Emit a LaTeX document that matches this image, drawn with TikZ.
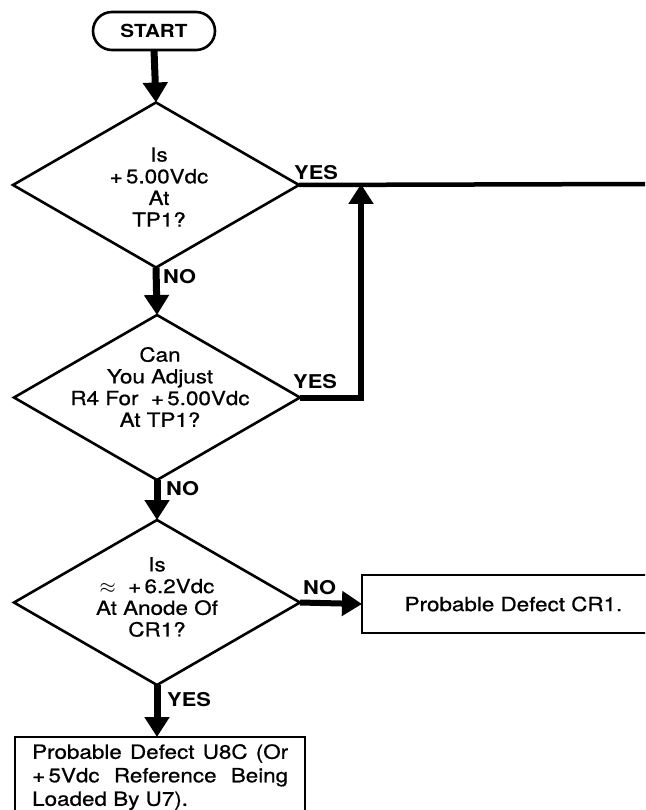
\documentclass[tikz,border=0pt]{standalone}
\usepackage{fontspec}
\setmainfont{TeX Gyre Heros}[FakeStretch=1.15]
\newfontfamily\heavyfont{TeX Gyre Heros}[FakeStretch=1.15,FakeBold=0.7]
\usetikzlibrary{shapes.geometric,arrows.meta}
\begin{document}
\begin{tikzpicture}[x=1pt,y=-1pt,
  decision/.style={diamond, draw, line width=2.6pt, minimum width=286pt, minimum height=165pt,
    inner sep=0pt, outer sep=0pt},
  dtext/.style={align=center, inner sep=0pt, font=\heavyfont\fontsize{19.5}{21.7}\selectfont},
  term/.style={rectangle, rounded corners=19pt, draw, line width=2.6pt, minimum width=122pt,
    minimum height=38pt, outer sep=0pt, font=\bfseries\fontsize{18}{22}\selectfont},
  proc/.style={rectangle, draw, line width=2.8pt, outer sep=0pt},
  btext/.style={font=\heavyfont\fontsize{19.5}{23.5}\selectfont, inner sep=0pt},
  flow/.style={line width=7pt, -{Triangle[width=24pt,length=20pt]}},
  lbl/.style={font=\bfseries\fontsize{19}{22}\selectfont, inner sep=0pt}
]
\useasboundingbox (0,0) rectangle (645,810);
\clip (0,0) rectangle (645,810);

% nodes
\node[term] (start) at (154,31) {START};
\node[decision] (d1) at (156,185) {};
\node[dtext] (d1t) at (159,187) {Is\\+\,5.00Vdc\\At\\TP1?};
\node[decision] (d2) at (157,397.5) {};
\node[dtext] (d2t) at (160,387) {Can\\You Adjust\\R4 For~~+\,5.00Vdc\\At TP1?};
\node[decision] (d3) at (157,602.5) {};
\node[dtext] (d3t) at (157,597) {Is\\$\approx$~~+\,6.2Vdc\\At Anode Of\\CR1?};
\node[proc, minimum width=303pt, minimum height=58pt, btext] (cr1) at (513.5,604) {Probable Defect CR1.};
\node[proc, anchor=north west, minimum width=290pt, minimum height=100pt] (b2) at (15,737) {};
\node[btext, anchor=north west, text width=256pt, align=justify] (b2t) at (32,744)
  {\tolerance=9999 Probable Defect U8C (Or\linebreak +\,5Vdc Reference Being\linebreak Loaded By U7).};

\coordinate (exitR) at (650,184);
\coordinate (join) at (361,184);

% connectors
\draw[flow] (start.south) -- (d1.north);
\draw[flow] (d1.south) -- (d2.north);
\draw[flow] (d2.south) -- (d3.north);
\draw[flow] (d3.south) -- (d3.south |- b2.north);
\draw[flow, line width=6pt] (d3.east) -- (cr1.west);
\draw[line width=4.5pt] (d1.east) -- (exitR);
\draw[line width=6pt, line join=miter, -{Triangle[width=24pt,length=20pt]}] (d2.east) -| (join);

% labels
\node[lbl, anchor=south west] (y1) at (294,180) {YES};
\node[lbl, anchor=west] (n1) at (163,277) {NO};
\node[lbl, anchor=south west] (y2) at (293,389) {YES};
\node[lbl, anchor=west] (n2) at (166,489) {NO};
\node[lbl, anchor=south west] (n3) at (303,595) {NO};
\node[lbl, anchor=west] (y3) at (167,700) {YES};
\end{tikzpicture}
\end{document}
